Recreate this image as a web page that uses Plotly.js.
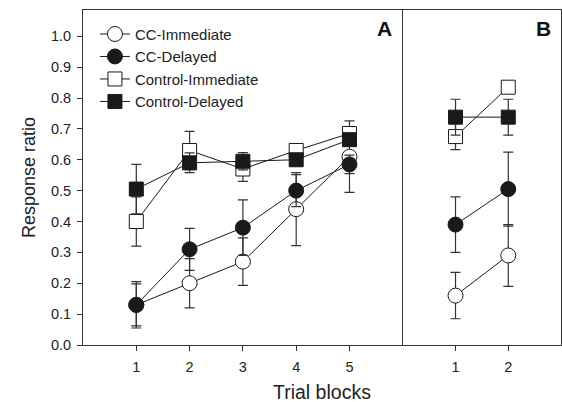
<!DOCTYPE html>
<html>
<head>
<meta charset="utf-8">
<script src="https://cdn.plot.ly/plotly-3.0.1.min.js"></script>
<style>html,body{margin:0;padding:0;background:#fff;}#chart{width:562px;height:402px;}</style>
</head>
<body>
<div id="chart"></div>
<script>
// Panel A (trial blocks 1-5)
const blocksA = [1, 2, 3, 4, 5];
const ccImmA = [0.13, 0.20, 0.27, 0.44, 0.61];
const ccImmAErr = [0.075, 0.08, 0.077, 0.118, 0.116];
const ccDelA = [0.13, 0.31, 0.38, 0.50, 0.585];
const ccDelAErr = [0.068, 0.068, 0.09, 0.052, 0.03];
const ctlImmA = [0.40, 0.63, 0.57, 0.63, 0.685];
const ctlImmAErr = [0.08, 0.062, 0.04, 0.02, 0.015];
const ctlDelA = [0.505, 0.59, 0.595, 0.60, 0.665];
const ctlDelAErr = [0.08, 0.032, 0.028, 0.02, 0.02];

// Panel B (trial blocks 1-2)
const blocksB = [1, 2];
const ccImmB = [0.16, 0.29];
const ccImmBErr = [0.075, 0.1];
const ccDelB = [0.39, 0.505];
const ccDelBErr = [0.09, 0.12];
const ctlImmB = [0.675, 0.835];
const ctlImmBErr = [0.042, 0.01];
const ctlDelB = [0.738, 0.738];
const ctlDelBErr = [0.058, 0.058];

const seriesNames = ['CC-Immediate', 'CC-Delayed', 'Control-Immediate', 'Control-Delayed'];
const yTicks = [0.0, 0.1, 0.2, 0.3, 0.4, 0.5, 0.6, 0.7, 0.8, 0.9, 1.0];

const styles = [
  {symbol: 'circle', fill: '#ffffff', size: 15},
  {symbol: 'circle', fill: '#1a1a1a', size: 15},
  {symbol: 'square', fill: '#ffffff', size: 14},
  {symbol: 'square', fill: '#1a1a1a', size: 14}
];

function mk(x, y, err, i, xa, legend) {
  return {
    x: x, y: y, type: 'scatter', mode: 'lines+markers',
    name: seriesNames[i], xaxis: xa, yaxis: xa === 'x' ? 'y' : 'y2',
    showlegend: legend,
    line: {color: '#1a1a1a', width: 1},
    marker: {symbol: styles[i].symbol, size: styles[i].size, color: styles[i].fill,
             line: {color: '#1a1a1a', width: 1}},
    error_y: {type: 'data', array: err, visible: true, color: '#333333', thickness: 1.2, width: 5}
  };
}

const data = [
  mk(blocksA, ccImmA, ccImmAErr, 0, 'x', true),
  mk(blocksA, ccDelA, ccDelAErr, 1, 'x', true),
  mk(blocksA, ctlImmA, ctlImmAErr, 2, 'x', true),
  mk(blocksA, ctlDelA, ctlDelAErr, 3, 'x', true),
  mk(blocksB, ccImmB, ccImmBErr, 0, 'x2', false),
  mk(blocksB, ccDelB, ccDelBErr, 1, 'x2', false),
  mk(blocksB, ctlImmB, ctlImmBErr, 2, 'x2', false),
  mk(blocksB, ctlDelB, ctlDelBErr, 3, 'x2', false)
];

const fam = 'Liberation Sans, Arial, sans-serif';
const tickFont = {family: fam, color: '#222222', size: 14.5};
const split = 0.669;

const layout = {
  width: 562, height: 402,
  margin: {l: 83, r: 1, t: 10, b: 57},
  paper_bgcolor: '#ffffff', plot_bgcolor: '#ffffff',
  font: {family: fam, color: '#222222', size: 14},
  showlegend: true,
  legend: {x: 0.025, y: 0.977, xanchor: 'left', yanchor: 'top', bgcolor: 'rgba(0,0,0,0)',
           font: {family: fam, size: 15, color: '#222'}, tracegroupgap: 0},
  xaxis: {domain: [0, split], range: [0, 6], tickvals: blocksA, ticks: 'outside', ticklen: 5,
          tickcolor: '#333', showline: true, linecolor: '#333', linewidth: 1, mirror: true,
          showgrid: false, zeroline: false, anchor: 'y', tickfont: tickFont, ticklabelstandoff: 4},
  xaxis2: {domain: [split, 1], range: [0, 3], tickvals: blocksB, ticks: 'outside', ticklen: 5,
           tickcolor: '#333', showline: true, linecolor: '#333', linewidth: 1, mirror: true,
           showgrid: false, zeroline: false, anchor: 'y2', tickfont: tickFont, ticklabelstandoff: 4},
  yaxis: {range: [0, 1.085], tickvals: yTicks, ticktext: yTicks.map(v => v.toFixed(1)),
          ticks: 'outside', ticklen: 5, tickcolor: '#333', showline: true, linecolor: '#333',
          linewidth: 1, mirror: false, showgrid: false, zeroline: false, anchor: 'x', tickfont: tickFont,
          ticklabelstandoff: 3,
          title: {text: 'Response ratio', font: {family: fam, size: 18, color: '#222'}, standoff: 10}},
  yaxis2: {range: [0, 1.085], matches: 'y', anchor: 'x2', showticklabels: false, ticks: '',
           showline: true, linecolor: '#333', linewidth: 1, mirror: true, showgrid: false, zeroline: false},
  annotations: [
    {text: 'Trial blocks', xref: 'paper', yref: 'paper', x: 0.5, y: -0.140, xanchor: 'center', yanchor: 'middle',
     showarrow: false, font: {family: fam, size: 19.5, color: '#222'}},
    {text: '<b>A</b>', xref: 'paper', yref: 'paper', x: split - 0.018, y: 0.985, xanchor: 'right', yanchor: 'top',
     showarrow: false, font: {family: fam, size: 21, color: '#111'}},
    {text: '<b>B</b>', xref: 'paper', yref: 'paper', x: 0.984, y: 0.985, xanchor: 'right', yanchor: 'top',
     showarrow: false, font: {family: fam, size: 21, color: '#111'}}
  ]
};

Plotly.newPlot('chart', data, layout, {displayModeBar: false, staticPlot: true});
</script>
</body>
</html>
